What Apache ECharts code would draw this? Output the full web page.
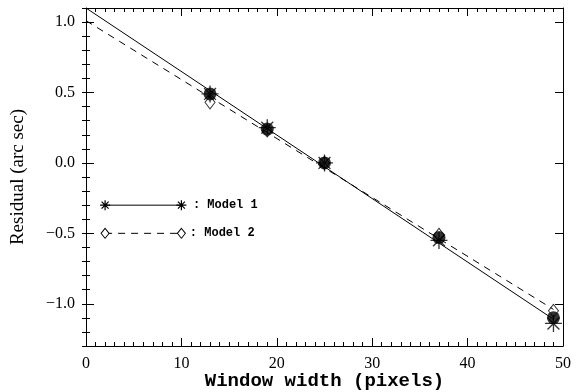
<!DOCTYPE html>
<html>
<head>
<meta charset="utf-8">
<script src="https://cdn.jsdelivr.net/npm/echarts@6/dist/echarts.min.js"></script>
<style>
    html, body { margin: 0; padding: 0; background: #fff; }
    #residualChart { width: 579px; height: 392px; }
</style>
</head>
<body>
<div id="residualChart"></div>
<script>
    // window widths of the measurements
    const widths = [13, 19, 25, 37, 49];
    // measured residuals (filled dots)
    const measured = [0.49, 0.24, 0.00, -0.53, -1.10];
    // model 1 (asterisks) and model 2 (diamonds)
    const model1 = [0.49, 0.25, 0.00, -0.55, -1.14];
    const model2 = [0.43, 0.23, 0.00, -0.51, -1.05];
    // straight fits, end points
    const fitX = [0, 49];
    const fit1 = [1.10, -1.11];
    const fit2 = [1.01, -1.04];
    // y tick labels
    const yTicks = [-1.0, -0.5, 0.0, 0.5, 1.0];
    // key in the lower left corner
    const keyX = [2, 10];
    const keyY1 = -0.30;
    const keyY2 = -0.50;
    const keyNames = [': Model 1', ': Model 2'];

    const asterisk = 'path://M0,-10L0,10M-10,0L10,0M-7,-7L7,7M-7,7L7,-7';
    const black = '#000';

    function pairs(xs, ys) {
        return xs.map((x, i) => [x, ys[i]]);
    }

    function xAxisAt(pos) {
        return {
            type: 'value', min: 0, max: 50, interval: 10, position: pos,
            axisLine: { onZero: false, lineStyle: { color: black, width: 1 } },
            axisTick: { inside: true, length: 8, lineStyle: { color: black } },
            minorTick: { show: true, splitNumber: 10, length: 4, lineStyle: { color: black } },
            splitLine: { show: false },
            axisLabel: { show: false }
        };
    }

    // major y ticks (custom values, so that the range can start at -1.3)
    function yMajorAt(pos) {
        return {
            type: 'value', min: -1.3, max: 1.1, position: pos,
            axisLine: { onZero: false, lineStyle: { color: black, width: 1 } },
            axisTick: { inside: true, length: 8, customValues: yTicks, lineStyle: { color: black } },
            splitLine: { show: false },
            axisLabel: { show: false }
        };
    }

    // minor y ticks every 0.1
    function yMinorAt(pos) {
        return {
            type: 'value', min: -1.3, max: 1.1, interval: 0.1, position: pos,
            axisLine: { show: false },
            axisTick: { inside: true, length: 4, lineStyle: { color: black } },
            splitLine: { show: false },
            axisLabel: { show: false }
        };
    }

    let bottomAxis = xAxisAt('bottom');
    bottomAxis.axisLabel = { show: true, color: black, fontFamily: 'Liberation Serif', fontSize: 16, margin: 10 };
    bottomAxis.name = 'Window width (pixels)';
    bottomAxis.nameLocation = 'middle';
    bottomAxis.nameGap = 26;
    bottomAxis.nameMoveOverlap = false;
    bottomAxis.nameTextStyle = { color: black, fontFamily: 'Liberation Mono', fontWeight: 'bold', fontSize: 19 };

    let leftAxis = yMajorAt('left');
    leftAxis.axisLabel = {
        show: true, customValues: yTicks,
        color: black, fontFamily: 'Liberation Serif', fontSize: 16, margin: 11,
        formatter: v => (v < 0 ? '\u2212' : '') + Math.abs(v).toFixed(1)
    };
    leftAxis.name = 'Residual (arc sec)';
    leftAxis.nameLocation = 'middle';
    leftAxis.nameGap = 58;
    leftAxis.nameMoveOverlap = false;
    leftAxis.nameRotate = 90;
    leftAxis.nameTextStyle = { color: black, fontFamily: 'Liberation Serif', fontSize: 19 };

    let myChart = echarts.init(document.getElementById('residualChart'));
    myChart.setOption({
        animation: false,
        backgroundColor: '#fff',
        grid: { left: 86, right: 16, top: 8, bottom: 46, outerBoundsMode: 'none' },
        xAxis: [bottomAxis, xAxisAt('top')],
        yAxis: [leftAxis, yMajorAt('right'), yMinorAt('left'), yMinorAt('right')],
        series: [
            {
                name: 'Fit 1', type: 'line', data: pairs(fitX, fit1), symbol: 'none',
                lineStyle: { color: black, width: 1 }
            },
            {
                name: 'Fit 2', type: 'line', data: pairs(fitX, fit2), symbol: 'none',
                lineStyle: { color: black, width: 1, type: [7, 6] }
            },
            {
                name: 'Model 2', type: 'scatter', data: pairs(widths, model2),
                symbol: 'diamond', symbolSize: [10, 13],
                itemStyle: { color: '#fff', borderColor: black, borderWidth: 1 }
            },
            {
                name: 'Measured', type: 'scatter', data: pairs(widths, measured),
                symbol: 'circle', symbolSize: 13,
                itemStyle: { color: black }
            },
            {
                name: 'Model 1', type: 'scatter', data: pairs(widths, model1),
                symbol: asterisk, symbolSize: 17,
                itemStyle: { color: 'none', borderColor: black, borderWidth: 1.3 }
            },
            // key
            {
                name: 'key1', type: 'line', data: pairs(keyX, [keyY1, keyY1]),
                symbol: asterisk, symbolSize: 10, showAllSymbol: true,
                lineStyle: { color: black, width: 1 },
                itemStyle: { color: 'none', borderColor: black, borderWidth: 1.2 },
                label: {
                    show: true, position: 'right', distance: 4,
                    formatter: p => p.dataIndex === 1 ? keyNames[0] : '',
                    color: black, fontFamily: 'Liberation Mono', fontWeight: 'bold', fontSize: 12
                }
            },
            {
                name: 'key2', type: 'line', data: pairs(keyX, [keyY2, keyY2]),
                symbol: 'diamond', symbolSize: [8, 10], showAllSymbol: true,
                lineStyle: { color: black, width: 1, type: [7, 6] },
                itemStyle: { color: '#fff', borderColor: black, borderWidth: 1 },
                label: {
                    show: true, position: 'right', distance: 4,
                    formatter: p => p.dataIndex === 1 ? keyNames[1] : '',
                    color: black, fontFamily: 'Liberation Mono', fontWeight: 'bold', fontSize: 12
                }
            }
        ]
    });
</script>
</body>
</html>
